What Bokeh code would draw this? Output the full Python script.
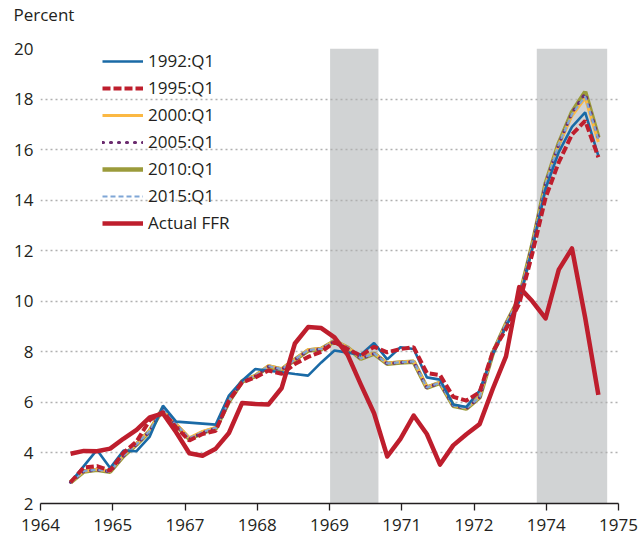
from bokeh.plotting import figure
from bokeh.models import Range1d, FixedTicker, Legend, LegendItem, BoxAnnotation, Title
from bokeh.embed import file_html
from bokeh.resources import INLINE

# ---------------- data ----------------
quarters = [f"{y}Q{q}" for y in range(1965, 1976) for q in range(1, 5)][:41]

actual_ffr = [3.97, 4.08, 4.07, 4.17, 4.56, 4.91, 5.41, 5.56, 4.82, 3.99, 3.89, 4.17, 4.79, 5.98, 5.94, 5.92,
              6.57, 8.33, 8.98, 8.94, 8.57, 7.88, 6.70, 5.57, 3.86, 4.56, 5.48, 4.75, 3.54, 4.30, 4.74, 5.14,
              6.54, 7.82, 10.56, 10.00, 9.32, 11.25, 12.09, 9.35, 6.30]
v1992 = [2.84, 3.48, 4.12, 3.40, 4.09, 4.07, 4.65, 5.87, 5.24, 5.20, 5.16, 5.12, 6.27, 6.86, 7.32, 7.25,
         7.19, 7.12, 7.06, 7.58, 8.05, 7.97, 7.89, 8.35, 7.70, 8.18, 8.11, 6.99, 6.90, 5.92, 5.82, 6.47,
         7.90, 9.00, 10.00, 12.10, 14.45, 15.90, 16.90, 17.47, 15.75]
v1995 = [2.84, 3.43, 3.48, 3.30, 4.00, 4.45, 5.30, 5.62, 5.01, 4.49, 4.75, 4.88, 6.07, 6.79, 6.99, 7.26,
         7.13, 7.52, 7.80, 8.00, 8.38, 8.11, 7.85, 8.20, 7.98, 8.11, 8.18, 7.16, 7.08, 6.22, 6.07, 6.40,
         8.00, 8.90, 9.90, 11.90, 14.10, 15.50, 16.60, 17.14, 15.70]
v2000 = [2.84, 3.28, 3.35, 3.28, 3.90, 4.36, 4.88, 5.78, 5.15, 4.60, 4.85, 5.01, 6.07, 6.86, 7.06, 7.45,
         7.32, 7.71, 8.08, 8.13, 8.44, 8.18, 7.75, 7.95, 7.55, 7.60, 7.63, 6.60, 6.79, 5.89, 5.78, 6.22,
         7.95, 9.10, 10.10, 12.20, 14.60, 16.20, 17.34, 18.05, 16.30]
v2005 = [2.84, 3.27, 3.33, 3.26, 3.88, 4.34, 4.86, 5.76, 5.10, 4.55, 4.80, 4.97, 6.03, 6.83, 7.04, 7.42,
         7.30, 7.69, 8.05, 8.11, 8.42, 8.16, 7.73, 7.93, 7.53, 7.58, 7.61, 6.58, 6.77, 5.87, 5.76, 6.20,
         7.95, 9.10, 10.12, 12.25, 14.65, 16.22, 17.45, 18.22, 16.45]
v2010 = [2.84, 3.27, 3.33, 3.26, 3.88, 4.34, 4.86, 5.76, 5.10, 4.55, 4.80, 4.97, 6.03, 6.83, 7.04, 7.42,
         7.30, 7.69, 8.05, 8.11, 8.42, 8.16, 7.73, 7.93, 7.53, 7.58, 7.61, 6.58, 6.77, 5.87, 5.76, 6.20,
         7.95, 9.10, 10.12, 12.25, 14.65, 16.25, 17.48, 18.28, 16.48]
v2015 = [2.84, 3.28, 3.34, 3.27, 3.89, 4.35, 4.87, 5.77, 5.13, 4.58, 4.83, 4.99, 6.05, 6.85, 7.05, 7.44,
         7.31, 7.70, 8.07, 8.12, 8.43, 8.17, 7.74, 7.94, 7.54, 7.59, 7.62, 6.59, 6.78, 5.88, 5.77, 6.21,
         7.95, 9.10, 10.10, 12.22, 14.62, 16.21, 17.40, 18.10, 16.40]

recession_start = [1969.917, 1973.833]
recession_end = [1970.833, 1975.167]

x_tick_labels = ["1964", "1965", "1967", "1968", "1969", "1971", "1972", "1974", "1975"]
y_ticks = [2, 4, 6, 8, 10, 12, 14, 16, 18, 20]

# ---------------- helpers ----------------
def q_to_year(s):
    y, q = s.split("Q")
    return int(y) + (int(q) - 1) / 4.0

xs = [q_to_year(s) for s in quarters]

first_tick = 1964.43
tick_step = 500 / 365.25
x_ticks = [first_tick + i * tick_step for i in range(len(x_tick_labels))]

FONT = "Open Sans"
TXT = "#231f20"

p = figure(width=639, height=534,
           x_range=Range1d(x_ticks[0], x_ticks[-1]), y_range=Range1d(2, 20),
           output_backend="svg", toolbar_location=None,
           min_border_left=40, min_border_right=21, min_border_top=48, min_border_bottom=31)
p.outline_line_color = None
p.background_fill_color = "white"

# unit label at top-left (second, blank line lifts the text towards the top edge)
title = Title(text="Percent\n ", align="left", vertical_align="top", offset=-27, standoff=0,
              text_font=FONT, text_font_size="17px", text_font_style="normal", text_color=TXT,
              text_line_height=0.9)
p.add_layout(title, "above")

# grid
p.xgrid.visible = False
p.ygrid.grid_line_color = "#b0b0b0"
p.ygrid.grid_line_dash = "2 3"
p.ygrid.grid_line_width = 1.3
p.ygrid.ticker = FixedTicker(ticks=y_ticks)

# y axis
p.yaxis.ticker = FixedTicker(ticks=y_ticks)
p.yaxis.axis_line_color = None
p.yaxis.major_tick_line_color = None
p.yaxis.major_tick_out = 0
p.yaxis.major_tick_in = 0
p.yaxis.minor_tick_line_color = None
p.yaxis.minor_tick_out = 0
p.yaxis.major_label_standoff = 7
p.yaxis.major_label_text_font = FONT
p.yaxis.major_label_text_font_size = "17px"
p.yaxis.major_label_text_color = TXT

# x axis
p.xaxis.ticker = FixedTicker(ticks=x_ticks)
p.xaxis.major_label_overrides = {t: lab for t, lab in zip(x_ticks, x_tick_labels)}
p.xaxis.axis_line_color = TXT
p.xaxis.axis_line_width = 1.3
p.xaxis.major_tick_line_color = TXT
p.xaxis.major_tick_line_width = 1.3
p.xaxis.major_tick_out = 7
p.xaxis.major_tick_in = 0
p.xaxis.minor_tick_line_color = None
p.xaxis.minor_tick_out = 0
p.xaxis.major_label_standoff = 8
p.xaxis.major_label_text_font = FONT
p.xaxis.major_label_text_font_size = "17px"
p.xaxis.major_label_text_color = TXT

# recession shading
for a, b in zip(recession_start, recession_end):
    p.add_layout(BoxAnnotation(left=a, right=b, fill_color="#d1d3d4", fill_alpha=1.0,
                               line_color=None, level="image"))

# lines
r2010 = p.line(xs, v2010, line_color="#9b9b3b", line_width=4.5)
r2000 = p.line(xs, v2000, line_color="#fbb843", line_width=3)
r2005 = p.line(xs, v2005, line_color="#6b2c6f", line_width=3.2, line_dash="1 7", line_cap="round")
r2015 = p.line(xs, v2015, line_color="#7fa6d6", line_width=2.2, line_dash="5 3")
r1992 = p.line(xs, v1992, line_color="#1a6aa6", line_width=2.6)
r1995 = p.line(xs, v1995, line_color="#be1e2d", line_width=4, line_dash="8 3")
rffr = p.line(xs, actual_ffr, line_color="#be1e2d", line_width=4.5, line_join="round")

legend = Legend(items=[
    LegendItem(label="1992:Q1", renderers=[r1992]),
    LegendItem(label="1995:Q1", renderers=[r1995]),
    LegendItem(label="2000:Q1", renderers=[r2000]),
    LegendItem(label="2005:Q1", renderers=[r2005]),
    LegendItem(label="2010:Q1", renderers=[r2010]),
    LegendItem(label="2015:Q1", renderers=[r2015]),
    LegendItem(label="Actual FFR", renderers=[rffr]),
], location=(62, 269))
legend.background_fill_alpha = 0
legend.border_line_color = None
legend.padding = 0
legend.margin = 0
legend.spacing = 4
legend.glyph_width = 41
legend.glyph_height = 20
legend.label_height = 20
legend.label_standoff = 5
legend.label_text_font = FONT
legend.label_text_font_size = "17px"
legend.label_text_color = TXT
p.add_layout(legend, "center")

open("out.html", "w").write(file_html(p, INLINE))
